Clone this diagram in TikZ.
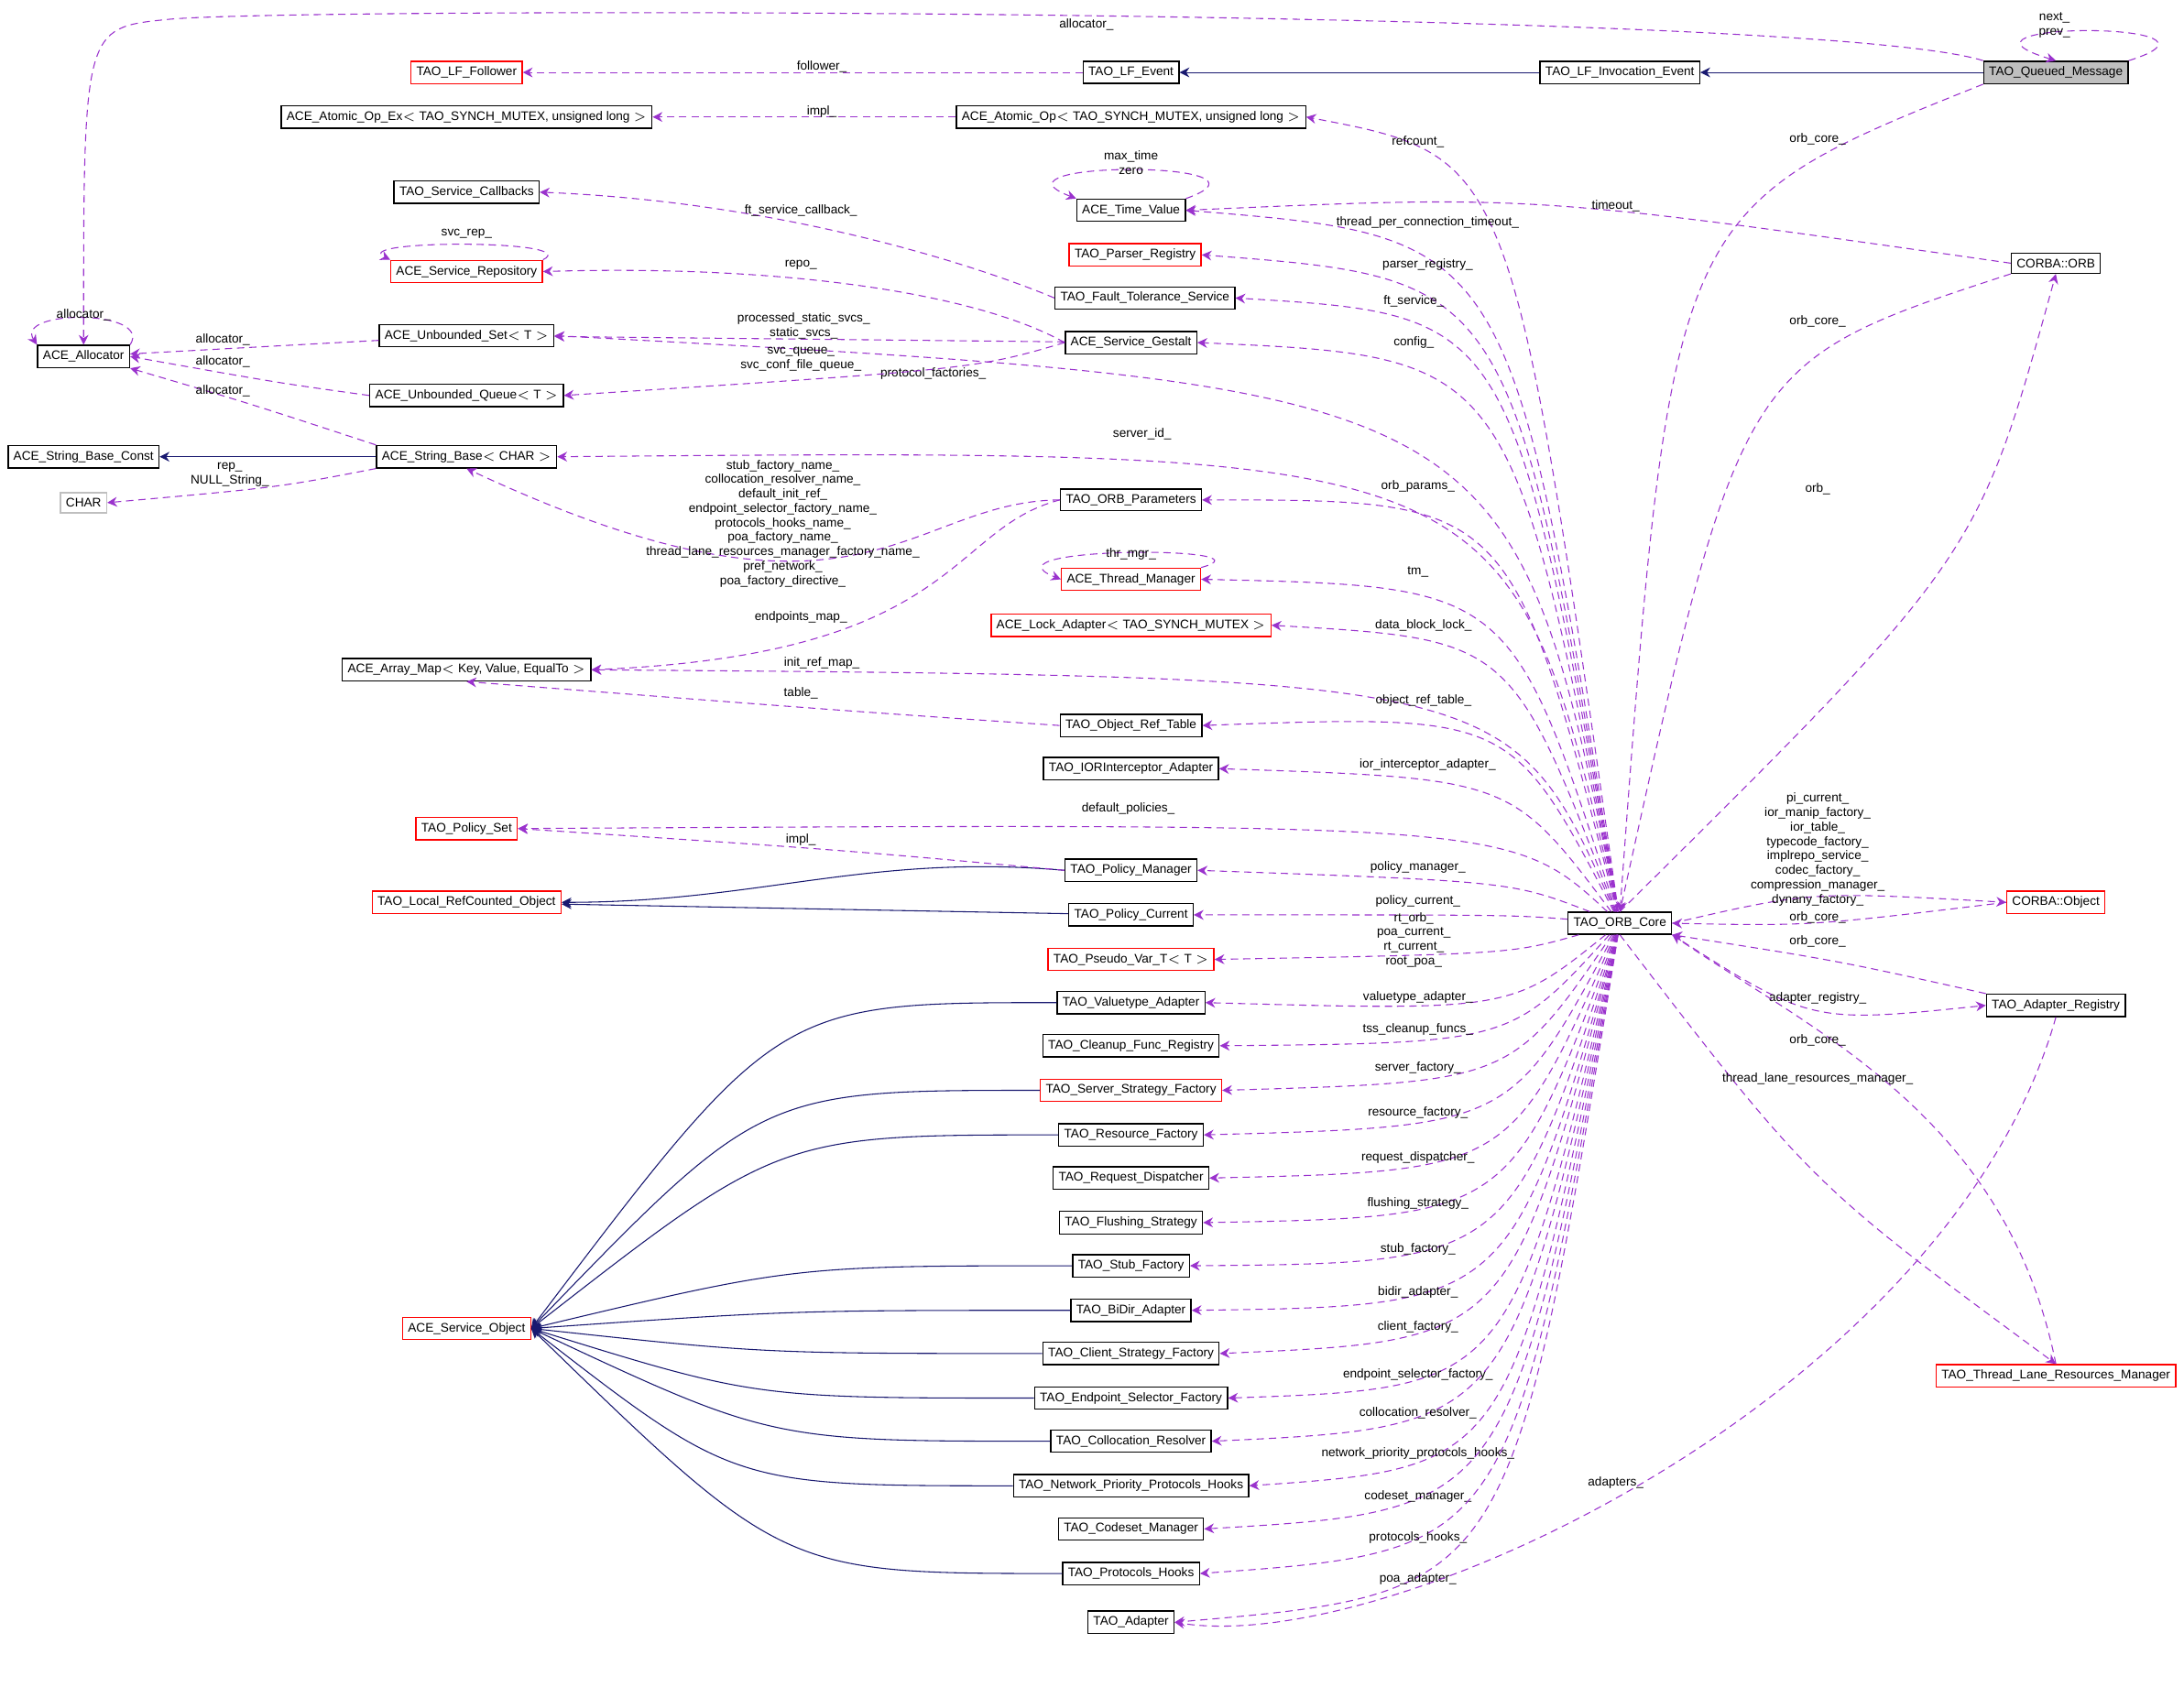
\documentclass[tikz,border=0pt]{standalone}
\usepackage{fontspec}
\setmainfont{Liberation Sans}
\usetikzlibrary{arrows.meta}
\definecolor{usecol}{RGB}{154,50,205}
\definecolor{inhcol}{RGB}{25,25,112}
\begin{document}
\begin{tikzpicture}[
    x=0.02cm,y=-0.02cm,
    font=\fontsize{5.1}{5.9}\selectfont,
    cls/.style={draw,fill=white,inner sep=2.2pt,minimum height=0.29cm,line width=0.5pt},
    redcls/.style={cls,draw=red},
    use/.style={-{Stealth[length=4pt,width=4pt]},usecol,densely dashed,line width=0.4pt},
    inh/.style={-{Stealth[length=4pt,width=4pt]},inhcol,line width=0.4pt},
    lbl/.style={align=center,inner sep=0pt}
  ]
    \useasboundingbox (0,0) rectangle (1568,1211);

    % right column
    \node[cls,fill=black!25] (qmsg)   at (1476,52)  {TAO\_Queued\_Message};
    \node[cls] (lfinv)  at (1163,52)  {TAO\_LF\_Invocation\_Event};
    \node[cls] (orb)    at (1476,189) {CORBA::ORB};
    \node[cls] (core)   at (1163,663) {TAO\_ORB\_Core};
    \node[redcls] (cobj)   at (1476,648) {CORBA::Object};
    \node[cls] (adreg)  at (1476,722) {TAO\_Adapter\_Registry};
    \node[redcls] (tlrm) at (1476,988) {TAO\_Thread\_Lane\_Resources\_Manager};

    % middle column
    \node[cls] (lfevt)  at (812,52)   {TAO\_LF\_Event};
    \node[cls] (atop)   at (812,84)   {ACE\_Atomic\_Op$<$ TAO\_SYNCH\_MUTEX, unsigned long $>$};
    \node[cls] (tval)   at (812,151)  {ACE\_Time\_Value};
    \node[redcls] (parser) at (815,183) {TAO\_Parser\_Registry};
    \node[cls] (ftsvc)  at (822,214)  {TAO\_Fault\_Tolerance\_Service};
    \node[cls] (gestalt) at (812,246) {ACE\_Service\_Gestalt};
    \node[cls] (orbpar) at (812,359)  {TAO\_ORB\_Parameters};
    \node[redcls] (thrmgr) at (812,416) {ACE\_Thread\_Manager};
    \node[redcls] (lockad) at (812,449) {ACE\_Lock\_Adapter$<$ TAO\_SYNCH\_MUTEX $>$};
    \node[cls] (objref) at (812,521)  {TAO\_Object\_Ref\_Table};
    \node[cls] (iorint) at (812,552)  {TAO\_IORInterceptor\_Adapter};
    \node[cls] (polmgr) at (812,625)  {TAO\_Policy\_Manager};
    \node[cls] (polcur) at (812,657)  {TAO\_Policy\_Current};
    \node[redcls] (pseudo) at (812,689) {TAO\_Pseudo\_Var\_T$<$ T $>$};
    \node[cls] (valad)  at (812,720)  {TAO\_Valuetype\_Adapter};
    \node[cls] (cleanup) at (812,751) {TAO\_Cleanup\_Func\_Registry};
    \node[redcls] (srvstr) at (812,783) {TAO\_Server\_Strategy\_Factory};
    \node[cls] (resfac) at (812,815)  {TAO\_Resource\_Factory};
    \node[cls] (reqdis) at (812,846)  {TAO\_Request\_Dispatcher};
    \node[cls] (flush)  at (812,878)  {TAO\_Flushing\_Strategy};
    \node[cls] (stubf)  at (812,909)  {TAO\_Stub\_Factory};
    \node[cls] (bidir)  at (812,941)  {TAO\_BiDir\_Adapter};
    \node[cls] (clistr) at (812,972)  {TAO\_Client\_Strategy\_Factory};
    \node[cls] (endsel) at (812,1004) {TAO\_Endpoint\_Selector\_Factory};
    \node[cls] (colres) at (812,1035) {TAO\_Collocation\_Resolver};
    \node[cls] (netpri) at (812,1067) {TAO\_Network\_Priority\_Protocols\_Hooks};
    \node[cls] (codeset) at (812,1098) {TAO\_Codeset\_Manager};
    \node[cls] (prohk)  at (812,1130) {TAO\_Protocols\_Hooks};
    \node[cls] (adapt)  at (812,1165) {TAO\_Adapter};

    % left columns
    \node[redcls] (lffol) at (335,52) {TAO\_LF\_Follower};
    \node[cls] (atopex) at (335,84)   {ACE\_Atomic\_Op\_Ex$<$ TAO\_SYNCH\_MUTEX, unsigned long $>$};
    \node[cls] (svccb)  at (335,138)  {TAO\_Service\_Callbacks};
    \node[redcls] (svcrep) at (335,195) {ACE\_Service\_Repository};
    \node[cls] (uset)   at (335,241)  {ACE\_Unbounded\_Set$<$ T $>$};
    \node[cls] (uqueue) at (335,284)  {ACE\_Unbounded\_Queue$<$ T $>$};
    \node[cls] (strbase) at (335,328) {ACE\_String\_Base$<$ CHAR $>$};
    \node[cls] (amap)   at (335,481)  {ACE\_Array\_Map$<$ Key, Value, EqualTo $>$};
    \node[redcls] (polset) at (335,595) {TAO\_Policy\_Set};
    \node[redcls] (lrco) at (335,648) {TAO\_Local\_RefCounted\_Object};
    \node[redcls] (svcobj) at (335,954) {ACE\_Service\_Object};
    \node[cls] (alloc)  at (60,256)   {ACE\_Allocator};
    \node[cls] (sbconst) at (60,328)  {ACE\_String\_Base\_Const};
    \node[cls,draw=black!25] (char) at (60,361) {CHAR};

    % inheritance
    \draw[inh] (qmsg) -- (lfinv);
    \draw[inh] (lfinv) -- (lfevt);
    \draw[inh] (strbase) -- (sbconst);
    \draw[inh] (polmgr.west) to[out=175,in=0] (lrco.east);
    \draw[inh] (polcur) -- (lrco);
    \foreach \s in {valad,srvstr,resfac,stubf,bidir,clistr,endsel,colres,netpri,prohk}
        \draw[inh] (\s.west) .. controls +(-200,0) .. (svcobj.east);

    % members of the ORB core
    \foreach \t/\lx/\ly/\l in {
        atop/1018/102/refcount\_, tval/1025/160/thread\_per\_connection\_timeout\_,
        parser/1025/190/parser\_registry\_, ftsvc/1015/216/ft\_service\_,
        gestalt/1015/246/config\_, uset/670/268/protocol\_factories\_,
        strbase/820/312/server\_id\_, orbpar/1018/349/orb\_params\_,
        thrmgr/1018/411/tm\_, lockad/1022/449/data\_block\_lock\_,
        amap/590/476/init\_ref\_map\_, objref/1022/503/object\_ref\_table\_,
        iorint/1025/549/ior\_interceptor\_adapter\_, polset/810/581/default\_policies\_,
        polmgr/1018/623/policy\_manager\_, polcur/1018/647/policy\_current\_,
        pseudo/1015/675/{rt\_orb\_\\poa\_current\_\\rt\_current\_\\root\_poa\_},
        valad/1018/716/valuetype\_adapter\_, cleanup/1018/739/tss\_cleanup\_funcs\_,
        srvstr/1018/767/server\_factory\_, resfac/1018/799/resource\_factory\_,
        reqdis/1018/831/request\_dispatcher\_, flush/1018/864/flushing\_strategy\_,
        stubf/1018/897/stub\_factory\_, bidir/1018/928/bidir\_adapter\_,
        clistr/1018/953/client\_factory\_, endsel/1018/987/endpoint\_selector\_factory\_,
        colres/1018/1015/collocation\_resolver\_,
        netpri/1018/1044/network\_priority\_protocols\_hooks\_,
        codeset/1018/1075/codeset\_manager\_, prohk/1018/1104/protocols\_hooks\_,
        adapt/1018/1134/poa\_adapter\_}
    {
        \draw[use] (core) .. controls (1085,\ly+10) .. (\t.east);
        \node[lbl] at (\lx,\ly) {\l};
    }

    % right side links
    \draw[use] (core.east) .. controls (1300,640) .. (cobj.west);
    \node[lbl] (lcobj) at (1305,610) {pi\_current\_\\ior\_manip\_factory\_\\ior\_table\_\\typecode\_factory\_\\implrepo\_service\_\\codec\_factory\_\\compression\_manager\_\\dynany\_factory\_};
    \draw[use] (cobj.west) .. controls (1300,665) .. (core.east);
    \node[lbl] at (1305,659) {orb\_core\_};
    \draw[use] (adreg.north west) .. controls (1320,690) .. (core.south east);
    \node[lbl] at (1305,676) {orb\_core\_};
    \draw[use] (core.south east) .. controls (1300,735) .. (adreg.west);
    \node[lbl] at (1305,717) {adapter\_registry\_};
    \draw[use] (tlrm.north) .. controls (1440,800) and (1300,740) .. (core.south east);
    \node[lbl] at (1305,747) {orb\_core\_};
    \draw[use] (core.south) .. controls (1300,850) .. (tlrm.north);
    \node[lbl] at (1305,775) {thread\_lane\_resources\_manager\_};
    \draw[use] (orb.south west) .. controls (1250,260) .. (core.north);
    \node[lbl] at (1305,231) {orb\_core\_};
    \draw[use] (core.north) .. controls (1420,400) .. (orb.south);
    \node[lbl] at (1305,351) {orb\_};
    \draw[use] (qmsg.south west) .. controls (1200,150) .. (core.north);
    \node[lbl] at (1305,100) {orb\_core\_};
    \draw[use] (orb.west) .. controls (1100,140) .. (tval.east);
    \node[lbl] at (1160,148) {timeout\_};
    \draw[use] (adreg.south) .. controls (1400,1000) and (1000,1190) .. (adapt.east);
    \node[lbl] at (1160,1065) {adapters\_};

    % top and left links
    \draw[use] (qmsg.north west) .. controls (1300,5) and (200,5) .. (120,14)
        .. controls (60,20) .. (alloc.north);
    \node[lbl] at (780,18) {allocator\_};
    \draw[use] (qmsg.north east) .. controls (1620,15) and (1380,15) .. (qmsg.north);
    \node[lbl] at (1475,18) {next\_\\prev\_};
    \draw[use] (lfevt) -- (lffol);
    \node[lbl] at (590,48) {follower\_};
    \draw[use] (atop) -- (atopex);
    \node[lbl] at (590,80) {impl\_};
    \draw[use] (tval.north east) .. controls (930,115) and (700,115) .. (tval.north west);
    \node[lbl] at (812,117) {max\_time\\zero};
    \draw[use] (ftsvc.west) .. controls (700,190) and (560,145) .. (svccb.east);
    \node[lbl] at (575,151) {ft\_service\_callback\_};
    \draw[use] (svcrep.north east) .. controls (420,172) and (250,172) .. (svcrep.north west);
    \node[lbl] at (335,168) {svc\_rep\_};
    \draw[use] (gestalt.west) .. controls (700,210) and (560,190) .. (svcrep.east);
    \node[lbl] at (575,190) {repo\_};
    \draw[use] (gestalt) -- (uset);
    \node[lbl] at (577,234) {processed\_static\_svcs\_\\static\_svcs\_};
    \draw[use] (gestalt.west) .. controls (700,265) .. (uqueue.east);
    \node[lbl] at (575,258) {svc\_queue\_\\svc\_conf\_file\_queue\_};
    \draw[use] (alloc.north east) .. controls (110,222) and (10,222) .. (alloc.north west);
    \node[lbl] at (60,226) {allocator\_};
    \draw[use] (uset) -- (alloc);
    \node[lbl] at (160,244) {allocator\_};
    \draw[use] (uqueue.west) .. controls (200,275) .. (alloc.east);
    \node[lbl] at (160,260) {allocator\_};
    \draw[use] (strbase.north west) .. controls (180,290) .. (alloc.south east);
    \node[lbl] at (160,281) {allocator\_};
    \draw[use] (strbase.south west) .. controls (200,350) .. (char.east);
    \node[lbl] at (165,341) {rep\_\\NULL\_String\_};
    \draw[use] (orbpar.west) .. controls (650,360) and (620,470) .. (strbase.south);
    \node[lbl] at (562,376) {stub\_factory\_name\_\\collocation\_resolver\_name\_\\default\_init\_ref\_\\endpoint\_selector\_factory\_name\_\\protocols\_hooks\_name\_\\poa\_factory\_name\_\\thread\_lane\_resources\_manager\_factory\_name\_\\pref\_network\_\\poa\_factory\_directive\_};
    \draw[use] (orbpar.west) .. controls (680,380) and (690,470) .. (amap.east);
    \node[lbl] at (575,443) {endpoints\_map\_};
    \draw[use] (thrmgr.north east) .. controls (920,392) and (700,392) .. (thrmgr.west);
    \node[lbl] at (812,398) {thr\_mgr\_};
    \draw[use] (objref.west) .. controls (600,510) .. (amap.south);
    \node[lbl] at (575,498) {table\_};
    \draw[use] (polmgr.west) .. controls (600,610) .. (polset.east);
    \node[lbl] at (575,603) {impl\_};
\end{tikzpicture}
\end{document}
